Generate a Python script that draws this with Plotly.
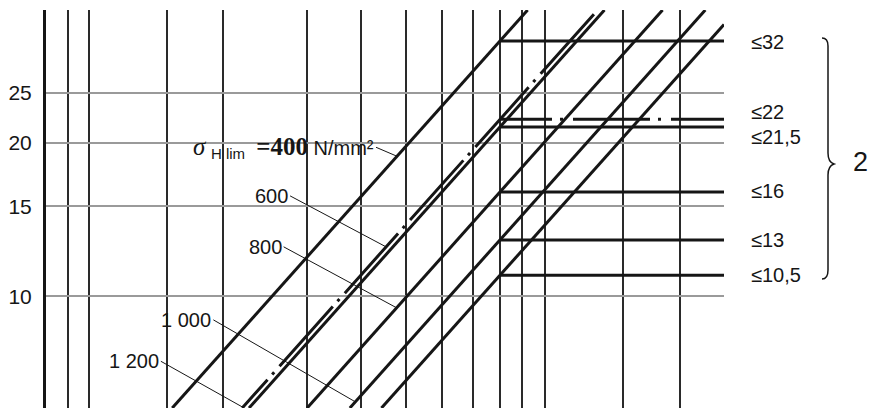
import numpy as np
import plotly.graph_objects as go

# ---------------- data ----------------
# vertical reference lines (abstract x units, 0..100 across the chart)
x_grid = [0, 3.24, 6.34, 17.85, 26.11, 38.50, 46.46, 53.10, 58.41, 62.98,
          66.96, 70.21, 73.60, 85.10, 93.51, 100]
x_range = [0, 100]
y_range = [6.05, 36.33]
y_ticks = [10, 15, 20, 25]
y_tick_labels = ["10", "15", "20", "25"]

# horizontal limit lines and their labels
levels = [31.6, 22.2, 21.45, 16.0, 12.9, 11.0]
level_labels = ["≤32", "≤22", "≤21,5", "≤16", "≤13", "≤10,5"]
level_dashdot = [False, True, False, False, False, False]
x_knee = 66.96          # x where limit lines start / diagonals meet them
slope = 0.01485         # decades of y per x unit (common slope of diagonals)

# sigma_H lim labels, which line they point to and y of the leader tip
sigma_values = ["400", "600", "800", "1 000", "1 200"]
sigma_line = [0, 1, 3, 4, 1]
sigma_tip_y = [18.8, 12.5, 9.5, 6.22, 6.07]

# ---------------- layout helpers ----------------
BODY = 8                       # default page margin around the plot div
W, H = 877 - BODY, 408 - BODY
PLOT_L, PLOT_R, PLOT_T, PLOT_B = 46, 724, 10, 408   # page pixels
ML, MT = PLOT_L - BODY, PLOT_T - BODY
MR = W - ML - (PLOT_R - PLOT_L)
MB = H - MT - (PLOT_B - PLOT_T)


def X(px):
    return (px - PLOT_L) / (PLOT_R - PLOT_L)


def Y(py):
    return (PLOT_B - py) / (PLOT_B - PLOT_T)


INK = "#161616"
lg_min, lg_max = np.log10(y_range)

# dash-dot pattern along the diagonal (phase so dots fall where drawn)
diag_dash = ",".join(["38px"] + ["7px", "3px", "8px", "80px"] * 7)
h_dash = "52px,8px,3px,10px,77px,8px,3px,10px,60px"

fig = go.Figure()


def diag_x(v, y):
    return x_knee + (np.log10(y) - np.log10(v)) / slope


for v, dd in zip(levels, level_dashdot):
    lv = np.log10(v)
    x_lo = diag_x(v, y_range[0])
    x_top = diag_x(v, y_range[1])
    if x_top <= x_range[1]:
        xs, ys = [x_lo, x_top], [y_range[0], y_range[1]]
    else:
        xs = [x_lo, x_range[1]]
        ys = [y_range[0], 10 ** (lv + slope * (x_range[1] - x_knee))]
    fig.add_trace(go.Scatter(
        x=xs, y=ys, mode="lines", hoverinfo="skip", showlegend=False,
        line=dict(color=INK, width=3, dash=diag_dash if dd else "solid")))
    fig.add_trace(go.Scatter(
        x=[x_knee, x_range[1]], y=[v, v], mode="lines", hoverinfo="skip",
        showlegend=False,
        line=dict(color=INK, width=3, dash=h_dash if dd else "solid")))

# right-hand limit labels
label_shift = [-1, 7, -10, 1, 0, 0]
for v, t, s in zip(levels, level_labels, label_shift):
    fig.add_annotation(x=X(749), xref="paper", y=np.log10(v), yref="y",
                       text=t, showarrow=False, xanchor="left",
                       yanchor="middle", yshift=s,
                       font=dict(family="Liberation Sans", size=20, color=INK))

# sigma labels with leader lines
sig_text = [
    "<span style='font-family:Liberation Serif;font-size:25px'><i>σ</i></span>"
    " <sub><span style='font-size:15px;color:#161616'>H lim</span></sub>  "
    "<span style='font-family:Liberation Serif;font-size:25px'>"
    "<b>=" + sigma_values[0] + "</b></span> N/mm²",
] + sigma_values[1:]
tails = [(-21, -9), (-96, -51), (-113, -61), (-142, -82), (-82, -46)]
for i, (txt, li, ty) in enumerate(zip(sig_text, sigma_line, sigma_tip_y)):
    ax, ay = tails[i]
    fig.add_annotation(
        x=diag_x(levels[li], ty), y=np.log10(ty), xref="x", yref="y",
        text=txt, showarrow=True, arrowhead=0, arrowwidth=1, arrowcolor=INK,
        standoff=0, ax=ax, ay=ay, xanchor="right", yanchor="middle",
        font=dict(family="Liberation Sans", size=20, color=INK))

# gaps cut into the grid behind labels
for (x0, x1, y0, y1) in [(178, 392, 131, 164), (155, 215, 300, 334)]:
    fig.add_shape(type="rect", xref="paper", yref="paper",
                  x0=X(x0), x1=X(x1), y0=Y(y1), y1=Y(y0),
                  fillcolor="white", line=dict(width=0), layer="between")

# curly brace and "2"
bx, tip = 828, 834
brace = (f"M {X(822)},{Y(38)} Q {X(bx)},{Y(38)} {X(bx)},{Y(46)} "
         f"L {X(bx)},{Y(153)} Q {X(bx)},{Y(162)} {X(tip)},{Y(164)} "
         f"Q {X(bx)},{Y(166)} {X(bx)},{Y(175)} "
         f"L {X(bx)},{Y(270)} Q {X(bx)},{Y(279)} {X(822)},{Y(279)}")
fig.add_shape(type="path", xref="paper", yref="paper", path=brace,
              line=dict(color=INK, width=1.5))
fig.add_annotation(x=X(860), y=Y(162), xref="paper", yref="paper", text="2",
                   showarrow=False, xanchor="center", yanchor="middle",
                   font=dict(family="Liberation Sans", size=27, color=INK))

fig.update_layout(
    width=W, height=H,
    margin=dict(l=ML, r=MR, t=MT, b=MB, pad=0, autoexpand=False),
    paper_bgcolor="white", plot_bgcolor="white", showlegend=False,
    xaxis=dict(range=x_range, tickvals=x_grid, showticklabels=False,
               showgrid=True, gridcolor="#2a2a2a", gridwidth=1.5,
               zeroline=False, showline=False, ticks="", automargin=False),
    yaxis=dict(type="log", range=[lg_min, lg_max], tickvals=y_ticks,
               ticktext=y_tick_labels, showgrid=True, gridcolor="#9a9a9a",
               gridwidth=1.5, zeroline=False, showline=True, linewidth=3,
               linecolor=INK, ticks="", automargin=False,
               ticklabelstandoff=7,
               tickfont=dict(family="Liberation Sans", size=21, color=INK)),
)

fig.write_html("out.html")
